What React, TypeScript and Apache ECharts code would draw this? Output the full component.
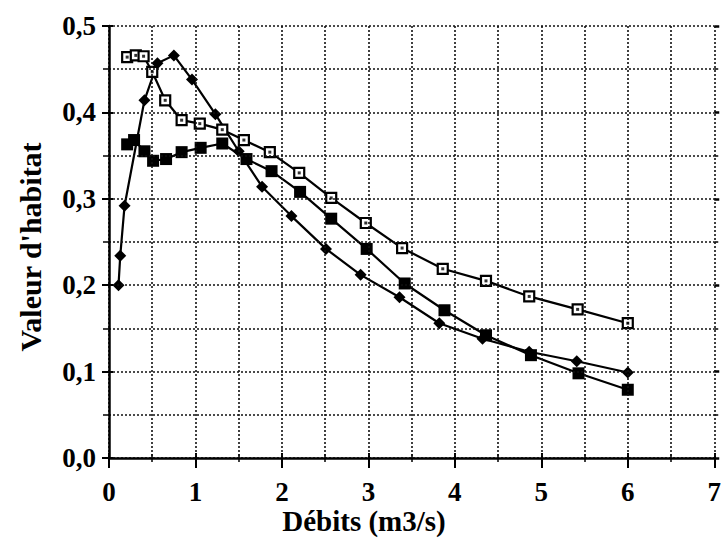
import React, { useEffect, useRef } from "react";
import * as echarts from "echarts";

// Open squares series
const qOpen = [0.21, 0.31, 0.4, 0.5, 0.65, 0.84, 1.05, 1.31, 1.56, 1.86, 2.2, 2.57, 2.97, 3.39, 3.86, 4.36, 4.86, 5.42, 6.0];
const vOpen = [0.464, 0.466, 0.465, 0.447, 0.414, 0.391, 0.387, 0.38, 0.368, 0.354, 0.33, 0.301, 0.272, 0.243, 0.219, 0.205, 0.187, 0.172, 0.156];

// Filled squares series
const qFill = [0.21, 0.29, 0.41, 0.51, 0.66, 0.84, 1.06, 1.31, 1.59, 1.88, 2.21, 2.57, 2.98, 3.42, 3.88, 4.36, 4.88, 5.43, 6.0];
const vFill = [0.363, 0.368, 0.355, 0.344, 0.346, 0.354, 0.359, 0.364, 0.346, 0.332, 0.308, 0.277, 0.242, 0.202, 0.171, 0.142, 0.119, 0.098, 0.079];

// Filled diamonds series
const qDia = [0.11, 0.13, 0.18, 0.41, 0.56, 0.75, 0.96, 1.23, 1.5, 1.77, 2.11, 2.51, 2.91, 3.36, 3.82, 4.32, 4.86, 5.41, 6.0];
const vDia = [0.2, 0.234, 0.292, 0.414, 0.457, 0.466, 0.438, 0.398, 0.355, 0.314, 0.28, 0.242, 0.212, 0.186, 0.156, 0.138, 0.123, 0.112, 0.099];

const xTitle = "Débits (m3/s)";
const yTitle = "Valeur d'habitat";

const pairs = (xs: number[], ys: number[]) => xs.map((x, i) => [x, ys[i]]);

const FONT = "'Liberation Serif', 'Times New Roman', serif";

export default function App() {
  const ref = useRef<HTMLDivElement>(null);
  useEffect(() => {
    if (!ref.current) return;
    const chart = echarts.init(ref.current, undefined, { renderer: "svg" });
    const gridLine = { show: true, lineStyle: { color: "#111", width: 1.6, type: [2, 2] as any } };
    const baseX = {
      type: "value" as const,
      min: 0,
      max: 7,
      interval: 1,
      position: "bottom" as const,
    };
    const baseY = {
      type: "value" as const,
      min: 0,
      max: 0.5,
      interval: 0.1,
    };
    chart.setOption({
      animation: false,
      backgroundColor: "#fff",
      grid: { left: 109, top: 26, width: 607, height: 432, containLabel: false },
      xAxis: [
        {
          ...baseX,
          axisLine: { show: true, lineStyle: { color: "#000", width: 2.5 } },
          axisTick: { show: true, length: 10, lineStyle: { color: "#000", width: 2 } },
          minorTick: { show: true, splitNumber: 2, length: 4, lineStyle: { color: "#000", width: 1.5 } },
          axisLabel: {
            show: true,
            margin: 20,
            color: "#000",
            fontFamily: FONT,
            fontWeight: "bold",
            fontSize: 27,
          },
          splitLine: gridLine,
          minorSplitLine: gridLine,
          z: 5,
        },
        {
          ...baseX,
          axisLine: { show: false },
          axisTick: { show: true, inside: true, length: 5, lineStyle: { color: "#000", width: 2 } },
          minorTick: { show: true, splitNumber: 2, length: 4, lineStyle: { color: "#000", width: 1.5 } },
          axisLabel: { show: false },
          splitLine: { show: false },
        },
      ],
      yAxis: [
        {
          ...baseY,
          position: "left",
          axisLine: { show: true, lineStyle: { color: "#000", width: 2.5 } },
          axisTick: { show: true, length: 7, lineStyle: { color: "#000", width: 2 } },
          minorTick: { show: true, splitNumber: 2, length: 6, lineStyle: { color: "#000", width: 1.5 } },
          axisLabel: {
            show: true,
            margin: 13,
            color: "#000",
            fontFamily: FONT,
            fontWeight: "bold",
            fontSize: 27,
            formatter: (v: number) => v.toFixed(1).replace(".", ","),
          },
          splitLine: gridLine,
          minorSplitLine: gridLine,
          z: 5,
        },
        {
          ...baseY,
          position: "left",
          axisLine: { show: false },
          axisTick: { show: true, inside: true, length: 4, lineStyle: { color: "#000", width: 2 } },
          minorTick: { show: false },
          axisLabel: { show: false },
          splitLine: { show: false },
        },
        {
          ...baseY,
          position: "right",
          axisLine: { show: false },
          axisTick: { show: true, length: 5, lineStyle: { color: "#000", width: 2.5 } },
          minorTick: { show: true, splitNumber: 2, length: 4, lineStyle: { color: "#000", width: 1.5 } },
          axisLabel: { show: false },
          splitLine: { show: false },
        },
      ],
      graphic: [
        {
          type: "text",
          x: 364,
          y: 521,
          style: {
            text: xTitle,
            fontFamily: FONT,
            fontWeight: "bold",
            fontSize: 29,
            fill: "#000",
            align: "center",
            verticalAlign: "middle",
          },
        },
        {
          type: "text",
          x: 30,
          y: 247,
          rotation: Math.PI / 2,
          style: {
            text: yTitle,
            fontFamily: FONT,
            fontWeight: "bold",
            fontSize: 30,
            fill: "#000",
            align: "center",
            verticalAlign: "middle",
          },
        },
      ],
      series: [
        {
          type: "line",
          data: pairs(qDia, vDia),
          symbol: "diamond",
          symbolSize: 12,
          showAllSymbol: true,
          lineStyle: { color: "#000", width: 2.2 },
          itemStyle: { color: "#000" },
          z: 3,
        },
        {
          type: "line",
          data: pairs(qFill, vFill),
          symbol: "rect",
          symbolSize: 12,
          showAllSymbol: true,
          lineStyle: { color: "#000", width: 2.2 },
          itemStyle: { color: "#000" },
          z: 3,
        },
        {
          type: "line",
          data: pairs(qOpen, vOpen),
          symbol: "rect",
          symbolSize: 10,
          showAllSymbol: true,
          lineStyle: { color: "#000", width: 2.2 },
          itemStyle: { color: "#fff", borderColor: "#000", borderWidth: 2.2 },
          z: 4,
        },
        {
          type: "scatter",
          data: pairs(qOpen, vOpen),
          symbol: "rect",
          symbolSize: 3,
          itemStyle: { color: "#000" },
          z: 6,
        },
      ],
    });
    return () => chart.dispose();
  }, []);
  return (
    <div
      ref={ref}
      style={{ position: "fixed", left: 0, top: 0, width: 724, height: 540, background: "#fff" }}
    />
  );
}
